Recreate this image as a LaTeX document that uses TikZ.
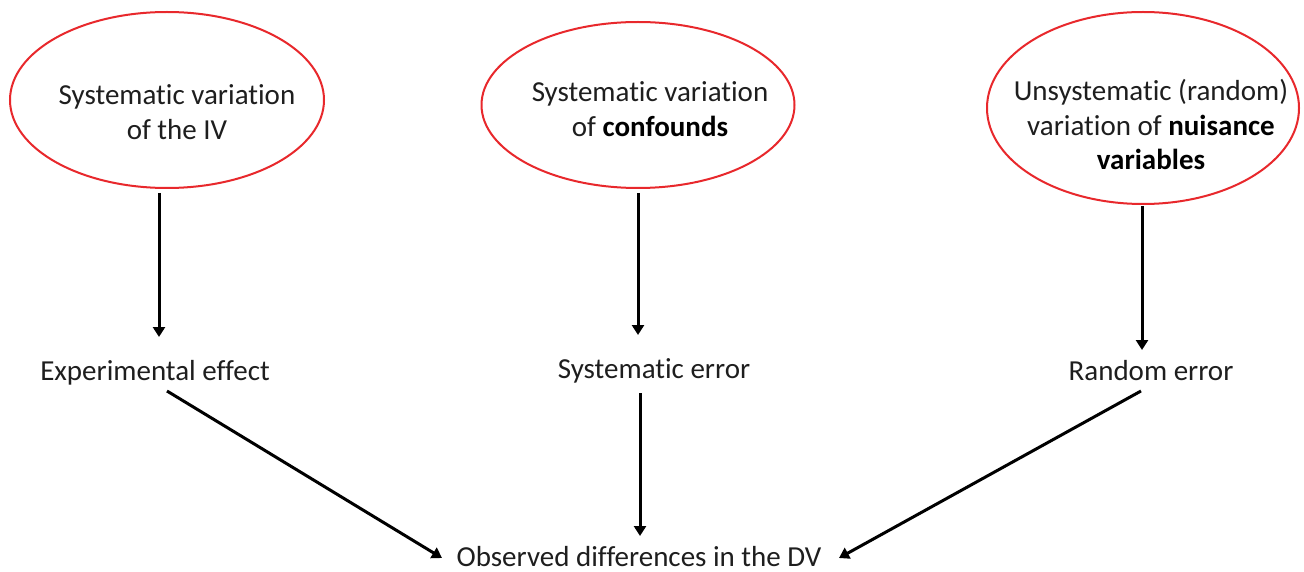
\documentclass[tikz,border=0pt]{standalone}
\usepackage{fontspec}
\setmainfont{Carlito}[Ligatures={NoCommon,NoContextual,NoRequired},RawFeature={-liga;-clig;-calt;-dlig}]
\usetikzlibrary{arrows.meta,shapes.geometric}
\definecolor{txt}{HTML}{1E1E1E}
\definecolor{ered}{HTML}{E8282C}
\newcommand{\nolig}{\kern0pt}
\begin{document}
\begin{tikzpicture}[x=1pt,y=1pt,
  oval/.style={ellipse,draw=ered,line width=2pt,inner sep=0pt},
  ovaltext/.style={align=center,inner sep=0pt,text=txt,font=\fontsize{29}{34.5}\selectfont},
  lab/.style={inner sep=0pt,anchor=base,text=txt,font=\fontsize{29}{34}\selectfont,text height=18pt,text depth=6pt},
  arr/.style={line width=3pt,draw=black,-{Triangle[length=10pt,width=12pt]}}]
\useasboundingbox (0,0) rectangle (1304,-572);
\fill[white] (0,0) rectangle (1304,-572);
% ellipses
\node[oval,minimum width=314pt,minimum height=176pt] (e1) at (167,-100) {};
\node[oval,minimum width=313pt,minimum height=166pt] (e2) at (638,-105) {};
\node[oval,minimum width=312pt,minimum height=192pt] (e3) at (1143,-108) {};
\node[ovaltext] (t1) at (177,-112) {Systemat\nolig ic variat\nolig ion\\of the IV};
\node[ovaltext] (t2) at (650,-109) {Systemat\nolig ic variat\nolig ion\\of \textbf{\color{black}confounds}};
\node[ovaltext] (t3) at (1151,-125) {Unsystemat\nolig ic (random)\\variat\nolig ion of \textbf{\color{black}nuisance}\\\textbf{\color{black}variables}};
% labels
\node[lab] (l1) at (155,-380) {Experimental effect};
\node[lab] (l2) at (654,-378) {Systemat\nolig ic error};
\node[lab] (l3) at (1151,-380) {Random error};
\node[lab] (o) at (639,-566) {Observed differences in the DV};
% arrows
\draw[arr] ([shift={(-8pt,-4pt)}]e1.south) -- ([shift={(4pt,43pt)}]l1.base);
\draw[arr] ([shift={(0pt,-4pt)}]e2.south) -- ([shift={(-16pt,43pt)}]l2.base);
\draw[arr] ([shift={(-1pt,-1pt)}]e3.south) -- ([shift={(-9pt,30pt)}]l3.base);
\draw[arr] ([shift={(12pt,-11pt)}]l1.base) -- ([shift={(-197pt,8pt)}]o.base);
\draw[arr] ([shift={(-14pt,-15pt)}]l2.base) -- ([shift={(1pt,30pt)}]o.base);
\draw[arr] ([shift={(-10pt,-11pt)}]l3.base) -- ([shift={(200pt,8pt)}]o.base);
\end{tikzpicture}
\end{document}
